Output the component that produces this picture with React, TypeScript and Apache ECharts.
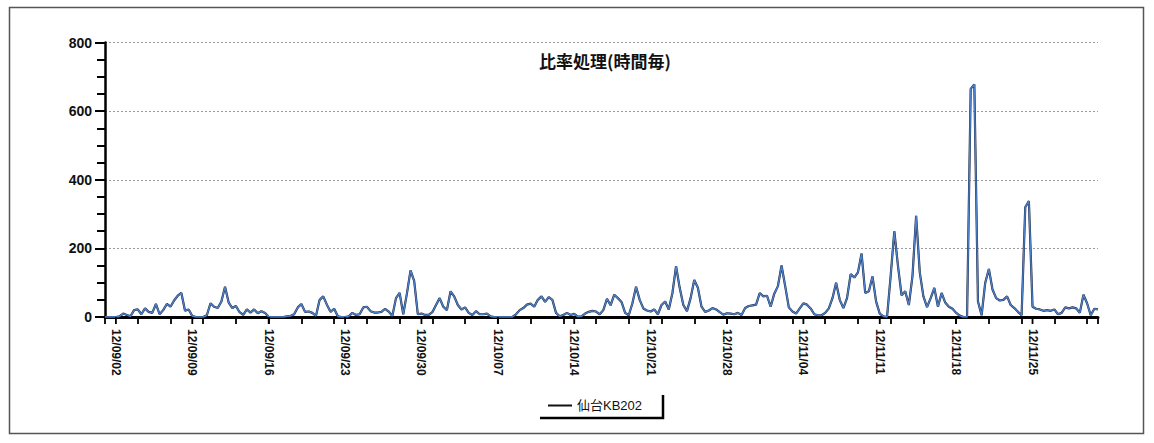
import { useEffect, useRef } from "react";
import * as echarts from "echarts";

const TITLE = "比率処理(時間毎)";
const SERIES_NAME = "仙台KB202";
const START = Date.UTC(2012, 8, 1); // 2012-09-01 00:00 UTC
const STEP_HOURS = 8;
const HOUR_MS = 3600 * 1000;

const yTicks = [0, 200, 400, 600, 800];
// week labels start on 09/02, minor ticks every third day
const weekStartDay = 1;
const minorTickEveryDays = 3;

// Ratio readings, three samples per day (00:00, 08:00, 16:00)
const ratioValues = [
  0, 0, 0, // 09/01
  0, 2, 10,
  6, 2, 20,
  22, 8, 25,
  15, 12, 38,
  8, 20, 38,
  30, 48, 62,
  70, 18, 22, // 09/08
  3, 0, 0,
  0, 5, 40,
  30, 26, 45,
  88, 42, 26,
  32, 14, 6,
  22, 13, 22,
  11, 17, 12, // 09/15
  0, 0, 0,
  0, 0, 2,
  3, 8, 28,
  38, 15, 16,
  12, 3, 50,
  60, 36, 15,
  24, 2, 0, // 09/22
  0, 2, 12,
  6, 8, 28,
  30, 17, 13,
  13, 15, 24,
  16, 3, 55,
  70, 8, 68,
  136, 105, 8, // 09/29
  10, 6, 6,
  14, 35, 55,
  30, 20, 75,
  60, 35, 22,
  28, 12, 6,
  17, 8, 8,
  10, 2, 0, // 10/06
  0, 0, 0,
  0, 0, 8,
  20, 26, 36,
  39, 30, 50,
  60, 44, 58,
  50, 12, 2,
  6, 12, 6, // 10/13
  9, 1, 2,
  10, 15, 18,
  16, 8, 20,
  53, 34, 65,
  55, 44, 12,
  5, 40, 88,
  50, 25, 19, // 10/20
  16, 22, 8,
  35, 45, 22,
  70, 148, 85,
  35, 17, 55,
  108, 85, 30,
  15, 19, 26,
  22, 14, 7, // 10/27
  11, 10, 8,
  12, 6, 26,
  32, 34, 36,
  70, 60, 62,
  30, 68, 90,
  150, 90, 28,
  16, 10, 25, // 11/03
  40, 36, 25,
  8, 5, 5,
  12, 25, 55,
  100, 50, 26,
  55, 125, 115,
  130, 185, 70,
  75, 118, 45, // 11/10
  10, 2, 0,
  120, 250, 150,
  63, 75, 35,
  120, 295, 130,
  60, 29, 55,
  85, 30, 70,
  42, 30, 24, // 11/17
  12, 4, 0,
  0, 665, 678,
  45, 5, 100,
  140, 80, 55,
  48, 50, 60,
  35, 26, 15,
  5, 320, 338, // 11/24
  30, 24, 22,
  18, 20, 18,
  22, 8, 12,
  28, 25, 28,
  25, 12, 65,
  40, 5, 24, // 11/30
  22,
];

const pad2 = (n: number) => (n < 10 ? "0" + n : "" + n);
// x values are hours since START
const fmtHours = (h: number) => {
  const d = new Date(START + h * HOUR_MS);
  return `${pad2(d.getUTCFullYear() % 100)}/${pad2(d.getUTCMonth() + 1)}/${pad2(d.getUTCDate())}`;
};

const TICK_LEN = 7;
const TICK_WIDTH = 1.8;

export default function App() {
  const ref = useRef<HTMLDivElement>(null);

  useEffect(() => {
    if (!ref.current) return;
    const chart = echarts.init(ref.current, undefined, { renderer: "svg" });

    const data = ratioValues.map((v, i) => [i * STEP_HOURS, v]);
    const endHour = (ratioValues.length - 1) * STEP_HOURS;

    const labelHours: number[] = [];
    for (let d = weekStartDay; d * 24 <= endHour; d += 7) labelHours.push(d * 24);

    const labelFont = "'Liberation Sans', Arial, sans-serif";
    const tickStyle = { color: "#000", width: TICK_WIDTH };

    chart.setOption({
      animation: false,
      backgroundColor: "#ffffff",
      title: {
        text: TITLE,
        left: 600,
        top: 47,
        textAlign: "center",
        textStyle: {
          fontFamily: "'Noto Sans CJK JP', sans-serif",
          fontWeight: "bold",
          fontSize: 17,
          color: "#111",
        },
      },
      legend: {
        data: [SERIES_NAME],
        left: 544,
        top: 395,
        icon: "rect",
        itemWidth: 24,
        itemHeight: 2,
        itemGap: 6,
        padding: [4, 4, 4, 4],
        textStyle: {
          fontFamily: "'Liberation Sans', 'Noto Sans CJK JP', sans-serif",
          fontSize: 13,
          color: "#111",
        },
      },
      grid: { left: 105, right: 56, top: 42.5, bottom: 126, containLabel: false },
      xAxis: [
        {
          // weekly date labels
          type: "value",
          min: 0,
          max: endHour,
          axisLine: { show: true, onZero: false, lineStyle: { color: "#000", width: 3 } },
          axisTick: { show: false },
          axisLabel: {
            customValues: labelHours,
            rotate: -90,
            margin: 12,
            formatter: (v: number) => fmtHours(v),
            fontFamily: labelFont,
            fontWeight: "bold",
            fontSize: 12,
            color: "#111",
          },
          splitLine: { show: false },
        },
        {
          // tick every third day
          type: "value",
          position: "bottom",
          min: 0,
          max: endHour,
          interval: minorTickEveryDays * 24,
          axisLine: { show: false, onZero: false },
          axisTick: { show: true, length: TICK_LEN, lineStyle: tickStyle },
          axisLabel: { show: false },
          splitLine: { show: false },
        },
      ],
      yAxis: {
        type: "value",
        min: yTicks[0],
        max: yTicks[yTicks.length - 1],
        interval: yTicks[1] - yTicks[0],
        axisLine: { show: true, lineStyle: { color: "#000", width: 2.5 } },
        axisTick: { show: true, length: 10, lineStyle: { color: "#000", width: 2 } },
        minorTick: { show: true, splitNumber: 4, length: 8, lineStyle: { color: "#000", width: 2 } },
        axisLabel: {
          margin: 13,
          fontFamily: labelFont,
          fontWeight: "bold",
          fontSize: 14,
          color: "#111",
        },
        splitLine: { show: true, lineStyle: { color: "#9a9a9a", type: [2, 2], width: 1 } },
      },
      series: [
        {
          name: SERIES_NAME,
          type: "line",
          data,
          showSymbol: false,
          color: "#111111",
          lineStyle: { color: "#1a2440", width: 2.2 },
          z: 2,
        },
        {
          name: "blue",
          type: "line",
          data,
          showSymbol: false,
          color: "#4d80c6",
          lineStyle: { color: "#4d80c6", width: 1.4 },
          z: 3,
        },
        {
          // tick marks under each weekly date label
          name: "weekTicks",
          type: "custom",
          clip: false,
          silent: true,
          data: labelHours.map((h) => [h, 0]),
          renderItem: (_params: any, api: any) => {
            const p = api.coord([api.value(0), 0]);
            return {
              type: "line",
              shape: { x1: p[0], y1: p[1], x2: p[0], y2: p[1] + TICK_LEN },
              style: { stroke: "#000", lineWidth: TICK_WIDTH },
            };
          },
          z: 4,
        },
      ],
      graphic: [
        {
          type: "rect",
          shape: { x: 9.5, y: 7.5, width: 1134, height: 426 },
          style: { fill: "none", stroke: "#555", lineWidth: 1.5 },
          silent: true,
        },
        {
          type: "polyline",
          shape: { points: [[540, 418], [663, 418], [663, 395]] },
          style: { fill: "none", stroke: "#000", lineWidth: 2.5 },
          silent: true,
        },
      ],
    });

    return () => chart.dispose();
  }, []);

  return (
    <div
      ref={ref}
      style={{ position: "absolute", left: 0, top: 0, width: 1154, height: 443 }}
    />
  );
}
